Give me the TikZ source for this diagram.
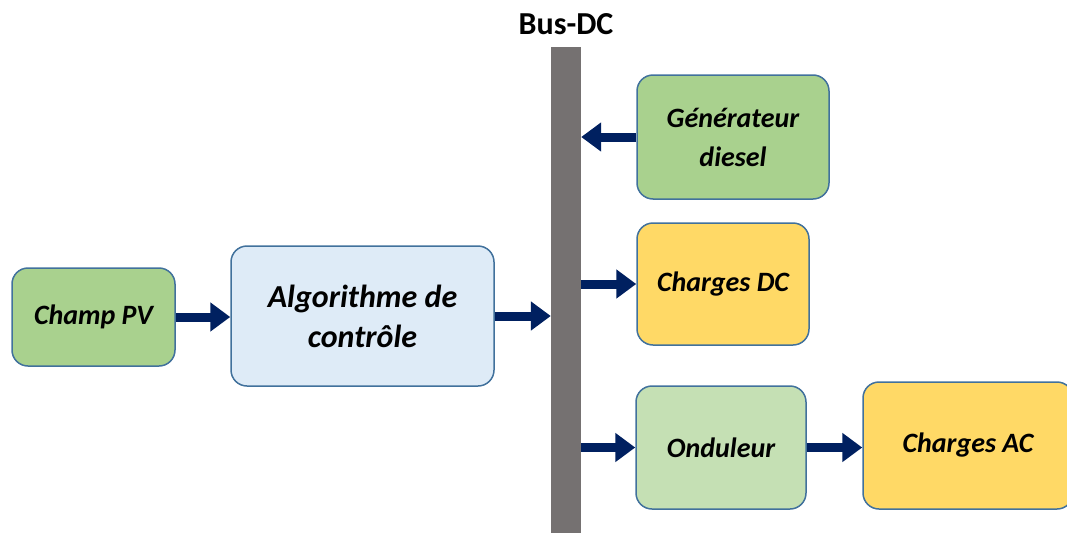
\documentclass[tikz,border=0pt]{standalone}
\usepackage{fontspec}
\setmainfont{Carlito}
\usetikzlibrary{arrows.meta}
\definecolor{bordc}{HTML}{41719C}
\definecolor{greenA}{HTML}{A9D18E}
\definecolor{greenB}{HTML}{C5E0B4}
\definecolor{blueA}{HTML}{DEEBF7}
\definecolor{yellowA}{HTML}{FFD966}
\definecolor{navy}{HTML}{002060}
\definecolor{busgray}{HTML}{757171}
\tikzset{
  blk/.style={draw=bordc, line width=1.5pt, rounded corners=16pt, align=center,
    inner sep=0pt, font=\fontsize{28}{39}\selectfont\bfseries\itshape},
  flow/.style={navy, line width=9pt, -{Triangle[length=20pt,width=28pt]}}
}
\begin{document}
\begin{tikzpicture}[x=1pt,y=-1pt]
\useasboundingbox (0,0) rectangle (1067,533);
\node[fill=busgray, minimum width=30pt, minimum height=486pt, inner sep=0pt] (bus) at (566,290) {};
\node[font=\fontsize{32}{34}\selectfont\bfseries] (title) at (566,24) {Bus-DC};
\node[blk, fill=greenA, minimum width=163pt, minimum height=98pt] (pv) at (93.5,317) {Champ PV};
\node[blk, fill=blueA, minimum width=263pt, minimum height=140pt, font=\fontsize{32}{40}\selectfont\bfseries\itshape] (algo) at (362.5,316) {Algorithme de\\contrôle};
\node[blk, fill=greenA, minimum width=192pt, minimum height=124pt] (gen) at (733,137) {Générateur\\diesel};
\node[blk, fill=yellowA, minimum width=172pt, minimum height=122pt] (dc) at (723,284) {Charges DC};
\node[blk, fill=greenB, minimum width=170pt, minimum height=123pt] (ond) at (721,447.5) {Onduleur};
\node[blk, fill=yellowA, minimum width=210pt, minimum height=127pt] (ac) at (968,445.5) {Charges AC};
\draw[flow] (pv.east) -- (pv.east -| algo.west);
\draw[flow] (algo.east) -- (algo.east -| bus.west);
\draw[flow] (gen.west) -- (gen.west -| bus.east);
\draw[flow] (bus.east |- dc.west) -- (dc.west);
\draw[flow] (bus.east |- ond.west) -- (ond.west);
\draw[flow] (ond.east) -- (ond.east -| ac.west);
\end{tikzpicture}
\end{document}
